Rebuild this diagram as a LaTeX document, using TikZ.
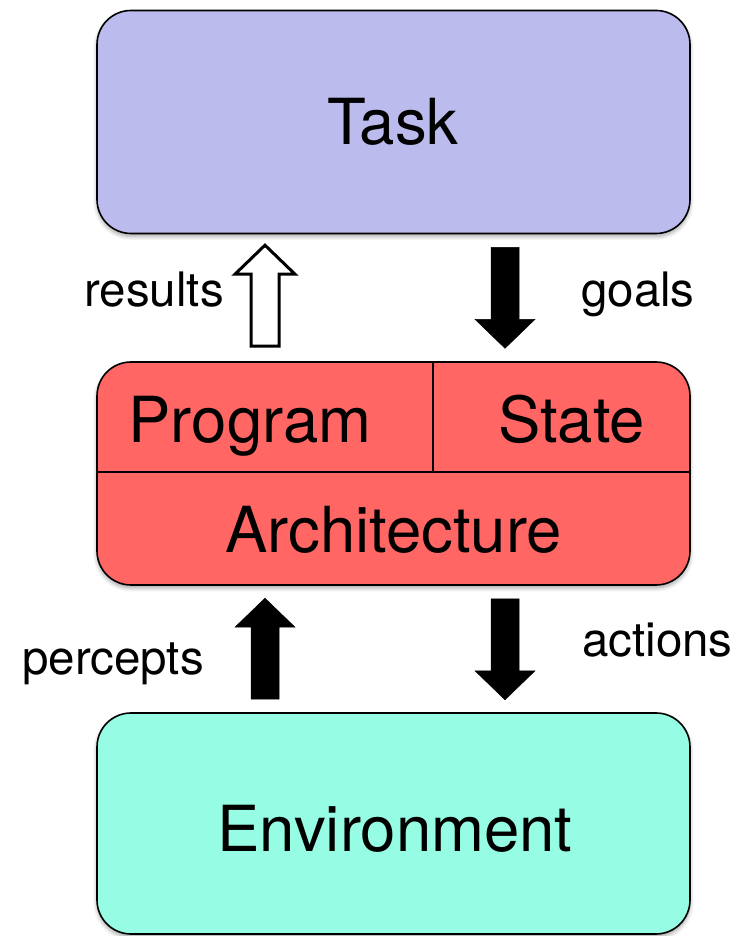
\documentclass[tikz,border=0pt]{standalone}
\usepackage{fontspec}
\setmainfont{TeX Gyre Heros}
\usetikzlibrary{calc,shadows.blur}

\definecolor{taskfill}{RGB}{187,187,237}
\definecolor{agentfill}{RGB}{255,102,100}
\definecolor{envfill}{RGB}{150,252,228}

\tikzset{
  layerbox/.style={draw=black, line width=1.6pt, rounded corners=34pt,
    minimum width=593pt, minimum height=223pt, inner sep=0pt,
    blur shadow={shadow xshift=0pt, shadow yshift=-3pt, shadow blur radius=4pt,
      shadow blur steps=6, shadow opacity=35}},
  bigtext/.style={font=\fontsize{63.5}{70}\selectfont, inner sep=0pt, anchor=base},
  labeltext/.style={font=\fontsize{47.5}{54}\selectfont, inner sep=0pt},
  solidarrow/.style={fill=black, draw=black, line width=0.5pt, line join=miter},
  hollowarrow/.style={fill=white, draw=black, line width=3pt, line join=miter},
  blockarrow/.pic={
    \path[pic actions] (-14,0) -- (-14,72) -- (-30,72) -- (0,101)
      -- (30,72) -- (14,72) -- (14,0) -- cycle;
  }
}

\begin{document}
\begin{tikzpicture}[x=1pt, y=1pt]
  \useasboundingbox (0,0) rectangle (736,936);

  % the three layers
  \node[layerbox, fill=taskfill] (task) at (393.5,814) {};
  \node[layerbox, fill=agentfill] (agent) at (393.5,462.5) {};
  \node[layerbox, fill=envfill, minimum height=221pt] (env) at (393.5,112.5) {};

  % dividers of the agent layer
  \coordinate (divy) at (0,464);
  \coordinate (divx) at (433,0);
  \draw[line width=2.8pt] (agent.west |- divy) -- (agent.east |- divy);
  \draw[line width=2.8pt] (divx |- divy) -- (divx |- agent.north);

  % layer texts
  \node[bigtext] (tasklbl) at (393,791) {Task};
  \node[bigtext] (proglbl) at (250,493) {Program};
  \node[bigtext] (statelbl) at (571.5,493) {State};
  \node[bigtext] (archlbl) at (393.5,383) {Architecture};
  \node[bigtext] (envlbl) at (395,84) {Environment};

  % block arrows between the layers
  \pic[hollowarrow] at ($(agent.north)+(-128.5,15)$) {blockarrow};
  \pic[solidarrow, rotate=180] at ($(task.south)+(111.5,-13)$) {blockarrow};
  \pic[solidarrow] at ($(env.north)+(-128.5,13)$) {blockarrow};
  \pic[solidarrow, rotate=180] at ($(agent.south)+(111.5,-13)$) {blockarrow};

  % arrow labels
  \node[labeltext, anchor=base east] (reslbl) at (224,629) {results};
  \node[labeltext, anchor=base west] (goallbl) at (581,629) {goals};
  \node[labeltext, anchor=base west] (perclbl) at (22,261) {percepts};
  \node[labeltext, anchor=base west] (actlbl) at (582,279) {actions};
\end{tikzpicture}
\end{document}
